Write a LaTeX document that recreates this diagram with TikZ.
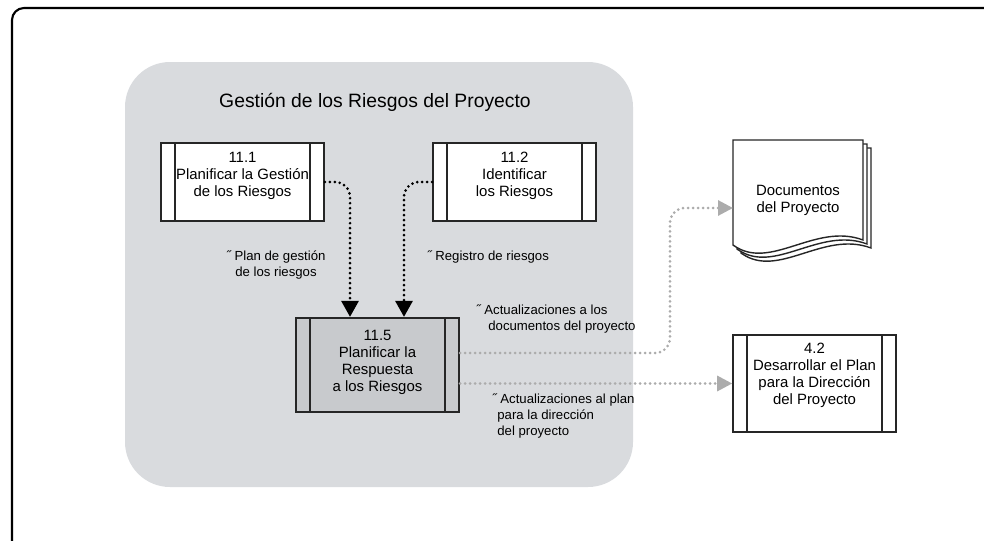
\documentclass[tikz,border=0pt]{standalone}
\usepackage{fontspec}
\setmainfont{Liberation Sans}
\usetikzlibrary{arrows.meta}
\definecolor{zonegray}{RGB}{217,219,222}
\definecolor{boxgray}{RGB}{200,202,205}
\definecolor{flowgray}{RGB}{172,172,172}

\begin{document}
\begin{tikzpicture}[x=0.02cm,y=-0.02cm,
    proc/.style={draw=black!85,line width=0.9pt,fill=white,inner sep=0pt,
      minimum width=3.26cm,minimum height=1.56cm,
      path picture={\draw[line width=0.8pt,black!85]
        ([xshift=0.28cm]path picture bounding box.north west) -- ([xshift=0.28cm]path picture bounding box.south west)
        ([xshift=-0.28cm]path picture bounding box.north east) -- ([xshift=-0.28cm]path picture bounding box.south east);}},
    txt/.style={align=center,font=\fontsize{8.5}{9.7}\selectfont},
    lbl/.style={inner sep=0pt,font=\fontsize{7.5}{9}\selectfont},
    flow/.style={line width=1.7pt,dash pattern=on 0pt off 0.1cm,line cap=round,rounded corners=0.3cm},
    blk/.style={flow,black,-{Triangle[length=0.32cm,width=0.34cm]}},
    gry/.style={flow,flowgray,-{Triangle[length=0.3cm,width=0.3cm]}},
    page/.style={draw=black!85,line width=0.8pt,fill=white}]
  \useasboundingbox (0,0) rectangle (984,541);
  % frame and zone
  \draw[line width=1.2pt,rounded corners=0.24cm] (12,560) -- (12,8) -- (1000,8);
  \fill[zonegray,rounded corners=0.9cm] (125,62) rectangle (633,487);
  \node[font=\fontsize{11}{13}\selectfont] (title) at (375,102) {Gestión de los Riesgos del Proyecto};
  % processes
  \node[proc,label={[txt,yshift=0.12cm]center:{11.1\\Planificar la Gestión\\de los Riesgos}}] (p111) at (242.5,182) {};
  \node[proc,label={[txt,yshift=0.12cm]center:{11.2\\Identificar\\los Riesgos}}] (p112) at (514.5,182) {};
  \node[proc,fill=boxgray,line width=1.3pt,minimum height=1.88cm,
    label={[txt,yshift=0.06cm]center:{11.5\\Planificar la\\Respuesta\\a los Riesgos}}] (p115) at (377.5,365) {};
  \node[proc,minimum height=1.94cm,
    label={[txt,yshift=0.16cm]center:{4.2\\Desarrollar el Plan\\para la Dirección\\del Proyecto}}] (p42) at (814.5,383.5) {};
  % documents
  \foreach \d in {8,4,0}
    \draw[page] (733+\d,140+\d) -- (863+\d,140+\d) -- (863+\d,240+\d)
      .. controls (815+\d,222+\d) and (770+\d,272+\d) .. (733+\d,245+\d) -- cycle;
  \node[txt] (docs) at (798,200) {Documentos\\del Proyecto};
  \coordinate (docin) at (733,208);
  % flows
  \draw[blk] (p111.east) -| ([xshift=-0.55cm]p115.north);
  \draw[blk] (p112.west) -| ([xshift=0.53cm]p115.north);
  \draw[gry] ([yshift=0.24cm]p115.east) -- (670,353) |- (docin);
  \draw[gry] (p115.east |- p42.west) -- (p42.west);
  % labels
  \node[lbl,align=center] (l1) at (276,265) {˝ Plan de gestión\\de los riesgos};
  \node[lbl,anchor=west] (l2) at (427,257) {˝ Registro de riesgos};
  \node[lbl,align=left,anchor=west] (l3) at (476,319) {˝ Actualizaciones a los\\\hspace{0.24cm}documentos del proyecto};
  \node[lbl,align=left,anchor=west] (l4) at (492,416) {˝ Actualizaciones al plan\\\hspace{0.1cm}para la dirección\\\hspace{0.1cm}del proyecto};
\end{tikzpicture}
\end{document}
